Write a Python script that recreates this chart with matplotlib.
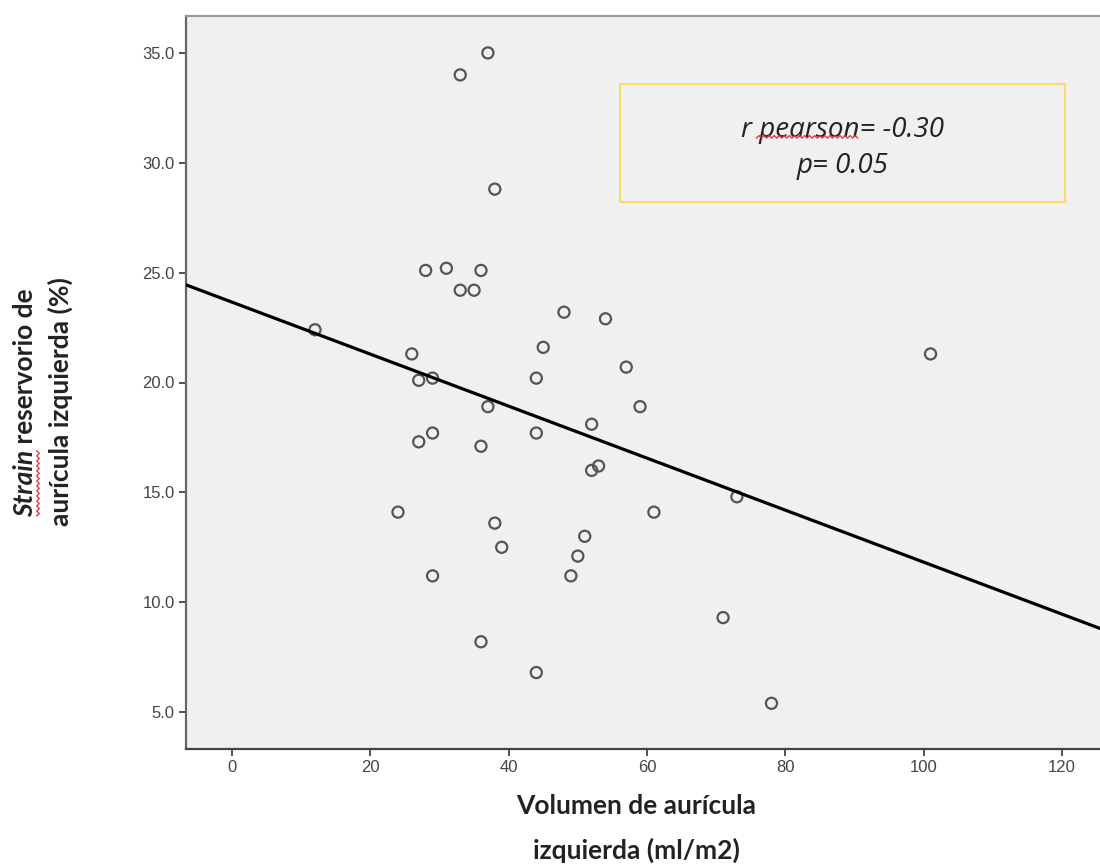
import numpy as np
import matplotlib
matplotlib.use('Agg')
import matplotlib.pyplot as plt
from matplotlib.patches import Rectangle

# volumen de auricula izquierda (ml/m2)
volumen = [37, 33, 38, 28, 31, 36, 33, 35, 12, 48,
           54, 26, 45, 57, 101, 27, 29, 44, 37, 59,
           52, 27, 29, 36, 44, 52, 53, 24, 61, 73,
           38, 51, 39, 50, 29, 49, 71, 36, 44, 78]
# strain reservorio de auricula izquierda (%)
strain = [35.0, 34.0, 28.8, 25.1, 25.2, 25.1, 24.2, 24.2, 22.4, 23.2,
          22.9, 21.3, 21.6, 20.7, 21.3, 20.1, 20.2, 20.2, 18.9, 18.9,
          18.1, 17.3, 17.7, 17.1, 17.7, 16.0, 16.2, 14.1, 14.1, 14.8,
          13.6, 13.0, 12.5, 12.1, 11.2, 11.2, 9.3, 8.2, 6.8, 5.4]

x_ticks = [0, 20, 40, 60, 80, 100, 120]
y_ticks = [5.0, 10.0, 15.0, 20.0, 25.0, 30.0, 35.0]
stats_text = ['r pearson= -0.30', 'p= 0.05']

W, H = 1100, 865
fig = plt.figure(figsize=(W / 100, H / 100), dpi=100)
ax = fig.add_axes([186 / W, 116 / H, 1 - 186 / W, (749 - 16) / H])
ax.set_facecolor('#f0f0f0')

ax.scatter(volumen, strain, s=64, facecolors='none', edgecolors='#555555',
           linewidths=1.6, zorder=3)

xlim = (-6.65, 125.5)
slope, intercept = np.polyfit(volumen, strain, 1)
xs = np.array(xlim)
ax.plot(xs, slope * xs + intercept, color='black', lw=2.3, zorder=4)

ax.set_xlim(*xlim)
ax.set_ylim(3.32, 36.68)
ax.set_xticks(x_ticks)
ax.set_xticklabels([str(v) for v in x_ticks])
ax.set_yticks(y_ticks)
ax.set_yticklabels(['%.1f' % v for v in y_ticks])

ax.spines['right'].set_visible(False)
ax.spines['top'].set_color('#999999')
ax.spines['top'].set_linewidth(1.6)
ax.spines['left'].set_color('#666666')
ax.spines['left'].set_linewidth(1.6)
ax.spines['bottom'].set_color('#444444')
ax.spines['bottom'].set_linewidth(1.6)
ax.tick_params(direction='out', length=5, width=1.3, color='#444444',
               labelsize=12, labelcolor='#444444', pad=3)
for lab in ax.get_xticklabels() + ax.get_yticklabels():
    lab.set_family('Liberation Sans')

# recuadro con la correlacion
ax.add_patch(Rectangle((56.1, 28.2), 64.4, 5.4, fill=False,
                       edgecolor='#ffd966', lw=1.5, zorder=5))
stat_font = dict(ha='center', va='center', fontsize=20, style='italic',
                 family='Open Sans', color='#222222')
r_txt = ax.text(88.3, 31.5, stats_text[0], **stat_font)
ax.text(88.3, 29.85, stats_text[1], **stat_font)

# etiquetas de los ejes
lab_font = dict(fontsize=19, weight='bold', family='Lato', color='#222222')
fig.text(636 / W, 1 - 806 / H, 'Volumen de aurícula', ha='center', va='center', **lab_font)
fig.text(636 / W, 1 - 850 / H, 'izquierda (ml/m2)', ha='center', va='center', **lab_font)

t1 = fig.text(25 / W, 1 - 517 / H, 'Strain', rotation=90, rotation_mode='anchor',
              ha='left', va='center', style='italic', **lab_font)
ax.annotate(' reservorio de', xy=(0.5, 1.0), xycoords=t1, rotation=90,
            rotation_mode='anchor', ha='left', va='center',
            annotation_clip=False, **lab_font)
fig.text(60 / W, 1 - 402 / H, 'aurícula izquierda (%)', rotation=90,
         rotation_mode='anchor', ha='center', va='center', **lab_font)

# subrayado ondulado rojo del corrector
fig.canvas.draw()
renderer = fig.canvas.get_renderer()


def squiggle(p0, p1):
    n = int(abs(p1 - p0) / 2.5) + 1
    t = np.linspace(p0, p1, n)
    w = np.where(np.arange(n) % 2 == 0, -1.3, 1.3)
    return t, w


bb = t1.get_window_extent(renderer)
t, w = squiggle(bb.y0 + 1, bb.y1 - 1)
fig.lines.append(plt.Line2D((bb.x1 + 1 + w) / W, t / H, color='#e03030', lw=0.9,
                            transform=fig.transFigure, figure=fig))

full = r_txt.get_window_extent(renderer)
tmp = ax.text(0, 0, 'r ', **stat_font)
w_r = tmp.get_window_extent(renderer).width
tmp.set_text('r pearson')
w_rp = tmp.get_window_extent(renderer).width
tmp.remove()
t, w = squiggle(full.x0 + w_r - 3, full.x0 + w_rp - 2)
fig.lines.append(plt.Line2D(t / W, (full.y0 + 7 + w) / H, color='#e03030', lw=0.9,
                            transform=fig.transFigure, figure=fig))

fig.savefig('out.png', dpi=100)
